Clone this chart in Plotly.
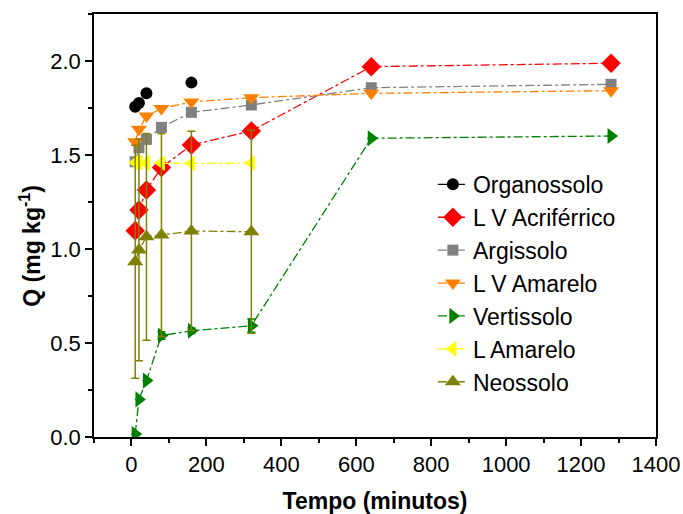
import plotly.graph_objects as go

# Sampling times (minutes)
tempo = [10, 20, 40, 80, 160, 320, 640, 1280]
tempo_curto = [10, 20, 40, 80, 160, 320]
tempo_organossolo = [10, 20, 40, 160]

# Adsorbed amount Q (mg kg-1) per soil
organossolo = [1.757, 1.776, 1.829, 1.885]
lv_acriferrico = [1.097, 1.207, 1.314, 1.433, 1.553, 1.628, 1.970, 1.988]
argissolo = [1.464, 1.539, 1.583, 1.647, 1.727, 1.766, 1.858, 1.876]
lv_amarelo = [1.571, 1.637, 1.707, 1.748, 1.782, 1.805, 1.828, 1.842]
vertissolo = [0.016, 0.200, 0.300, 0.540, 0.565, 0.592, 1.589, 1.601]
vertissolo_err = [0, 0, 0, 0.02, 0.015, 0.035, 0, 0]
l_amarelo = [1.460, 1.460, 1.458, 1.456, 1.455, 1.457]
neossolo = [0.932, 0.995, 1.065, 1.074, 1.096, 1.092]
neossolo_err = [0.62, 0.59, 0.55, 0.54, 0.53, 0.54]

FONT = "Arial, Liberation Sans, sans-serif"


def gapped(xs, ys):
    """Interleave None so points are drawn without connecting segments."""
    gx, gy = [], []
    for i, (a, b) in enumerate(zip(xs, ys)):
        if i:
            gx.append(None)
            gy.append(None)
        gx.append(a)
        gy.append(b)
    return gx, gy


fig = go.Figure()

ox, oy = gapped(tempo_organossolo, organossolo)
series = [
    ("Organossolo", ox, oy, "black", "circle", 12, None),
    ("L V Acriférrico", tempo, lv_acriferrico, "#FF0000", "diamond", 15, None),
    ("Argissolo", tempo, argissolo, "#808080", "square", 11, None),
    ("L V Amarelo", tempo, lv_amarelo, "#FF8000", "triangle-down", 14, None),
    ("Vertissolo", tempo, vertissolo, "#008000", "triangle-right", 14, vertissolo_err),
    ("L Amarelo", tempo_curto, l_amarelo, "#FFFF00", "triangle-left", 14, None),
    ("Neossolo", tempo_curto, neossolo, "#808000", "triangle-up", 14, neossolo_err),
]

for name, xs, ys, color, symbol, size, err in series:
    kw = {}
    if err is not None:
        kw["error_y"] = dict(type="data", array=err, visible=True,
                             color=color, thickness=1.5, width=4)
    fig.add_trace(go.Scatter(
        x=xs, y=ys, name=name, mode="lines+markers",
        connectgaps=False,
        line=dict(color=color, width=1.3, dash="dashdot"),
        marker=dict(color=color, symbol=symbol, size=size, line=dict(width=0)),
        **kw,
    ))

axis_common = dict(
    showgrid=False, zeroline=False, automargin=False,
    showline=True, linecolor="black", linewidth=1.5, mirror=True,
    ticks="outside", ticklen=7, tickwidth=1.5, tickcolor="black",
    tickfont=dict(family=FONT, size=22, color="black"),
)

fig.update_xaxes(
    range=[-100, 1400], dtick=200, tick0=0,
    minor=dict(dtick=100, ticks="outside", ticklen=4, tickwidth=1.5, tickcolor="black"),
    title=dict(text="<b>Tempo (minutos)</b>", font=dict(family=FONT, size=23, color="black"),
               standoff=17),
    **axis_common,
)
fig.update_yaxes(
    range=[0, 2.25], dtick=0.5, tick0=0, tickformat=".1f",
    minor=dict(dtick=0.25, ticks="outside", ticklen=4, tickwidth=1.5, tickcolor="black"),
    **axis_common,
)

fig.add_annotation(
    text="<b>Q (mg kg<sup>-1</sup>)</b>",
    xref="paper", yref="paper", x=-0.114, y=0.452,
    xanchor="center", yanchor="middle", textangle=-90, showarrow=False,
    font=dict(family=FONT, size=23, color="black"),
)

fig.update_layout(
    width=683, height=514,
    margin=dict(l=94, r=27, t=14, b=77),
    paper_bgcolor="white", plot_bgcolor="white",
    showlegend=True,
    legend=dict(
        x=0.603, y=0.648, xanchor="left", yanchor="top",
        bgcolor="rgba(0,0,0,0)", borderwidth=0,
        font=dict(family=FONT, size=23, color="black"),
        itemwidth=30, tracegroupgap=0,
    ),
)

fig.write_html("out.html")
